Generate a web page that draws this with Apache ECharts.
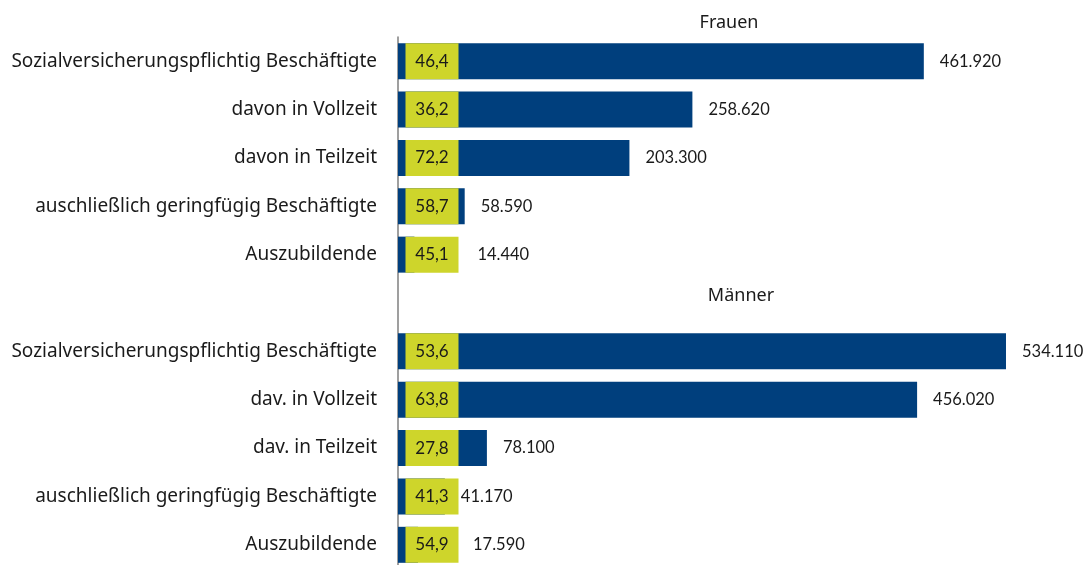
<!DOCTYPE html>
<html>
<head>
<meta charset="utf-8">
<script src="https://cdn.jsdelivr.net/npm/echarts@6/dist/echarts.min.js"></script>
<style>
  html, body { margin: 0; padding: 0; background: #ffffff; }
  #chart { width: 1089px; height: 565px; }
</style>
</head>
<body>
<div id="chart"></div>
<script>
// Beschäftigte nach Geschlecht (oben Frauen, unten Männer, leere Zeile dazwischen)
var categories = [
    'Sozialversicherungspflichtig Beschäftigte',
    'davon in Vollzeit',
    'davon in Teilzeit',
    'auschließlich geringfügig Beschäftigte',
    'Auszubildende',
    '',
    'Sozialversicherungspflichtig Beschäftigte',
    'dav. in Vollzeit',
    'dav. in Teilzeit',
    'auschließlich geringfügig Beschäftigte',
    'Auszubildende'
];
var anzahl = [461920, 258620, 203300, 58590, 14440, '-', 534110, 456020, 78100, 41170, 17590];
var anteil = ['46,4', '36,2', '72,2', '58,7', '45,1', '', '53,6', '63,8', '27,8', '41,3', '54,9'];
var groupTitles = ['Frauen', 'Männer'];

var fontText = '"Noto Sans", sans-serif';
var fontZahl = 'Lato, "Noto Sans", sans-serif';
var blau = '#003f7d';
var gelb = '#ced52b';

function fmtZahl(v)
{
    return String(v).replace(/\B(?=(\d{3})+(?!\d))/g, '.');
}

// Datenbeschriftungen, die in Excel von Hand verschoben wurden
var labelShift = {4: [47, 0], 10: [39, 0]};

var valueData = anzahl.map(function (v, i) {
    var item = {value: v};
    if (labelShift[i]) item.label = {offset: labelShift[i]};
    return item;
});

var chart = echarts.init(document.getElementById('chart'));

var option = {
    animation: false,
    grid: {left: 398, right: 8, top: 37, height: 532, containLabel: false, outerBoundsMode: 'none'},
    xAxis: {type: 'value', min: 0, max: 600000, show: false},
    yAxis: {
        type: 'category', data: categories, inverse: true,
        axisLine: {show: true, lineStyle: {color: '#7f7f7f', width: 1.5}},
        axisTick: {show: false},
        axisLabel: {color: '#1a1a1a', fontSize: 19, margin: 21, fontFamily: fontText}
    },
    graphic: [
        {type: 'text', x: 729, y: 23, style: {text: groupTitles[0], fontSize: 18, fontFamily: fontText, fill: '#1a1a1a', align: 'center', verticalAlign: 'middle'}},
        {type: 'text', x: 741, y: 296, style: {text: groupTitles[1], fontSize: 18, fontFamily: fontText, fill: '#1a1a1a', align: 'center', verticalAlign: 'middle'}}
    ],
    series: [
        {
            name: 'Anzahl', type: 'bar', data: anzahl, barWidth: 36,
            itemStyle: {color: blau},
            label: {
                show: true, position: 'insideLeft', distance: 7, offset: [27, 0],
                formatter: function (p) { return anteil[p.dataIndex]; },
                backgroundColor: gelb, width: 53, height: 36, lineHeight: 36,
                align: 'center', color: '#1a1a1a', fontSize: 17, fontFamily: fontZahl
            }
        },
        {
            name: 'Beschriftung', type: 'bar', data: valueData, barWidth: 36, barGap: '-100%',
            itemStyle: {color: 'rgba(0,0,0,0)'}, silent: true,
            label: {
                show: true, position: 'right', distance: 16,
                formatter: function (p) { return fmtZahl(p.value); },
                color: '#1a1a1a', fontSize: 16.5, fontFamily: fontZahl
            }
        }
    ]
};

chart.setOption(option);
</script>
</body>
</html>
